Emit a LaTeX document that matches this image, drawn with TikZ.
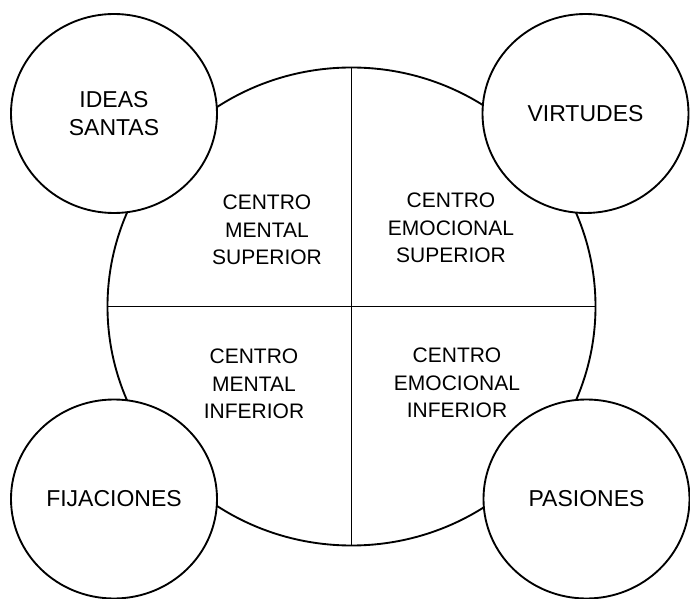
\documentclass[tikz,border=0pt]{standalone}
\usepackage{fontspec}
\setmainfont{Liberation Sans}
\usetikzlibrary{shapes.geometric}

\tikzset{every picture/.style={line width=1.4pt}}
\tikzset{circulo/.style={shape=ellipse,draw,fill=white,inner sep=0pt,minimum width=154.5pt,minimum height=149.25pt,align=center,font=\fontsize{17.25}{21}\selectfont}}
\tikzset{centrotxt/.style={inner sep=0.75pt,align=center,font=\fontsize{15.75}{20.6}\selectfont}}

\begin{document}
\begin{tikzpicture}[x=0.75pt,y=0.75pt,yscale=-1,xscale=1]
\useasboundingbox (0,0) rectangle (690,599);

%Shape: Ellipse [id:centro]
\node [shape=ellipse,draw,inner sep=0pt,minimum width=366pt,minimum height=358.5pt] (centro) at (351.5,306.5) {};
%Straight Lines
\draw (centro.north) -- (centro.south) ;
\draw (centro.west) -- (centro.east) ;

%Shape: Ellipse
\node [circulo] (ideas) at (114,113.5) {IDEAS\\SANTAS};
%Shape: Ellipse
\node [circulo] (virtudes) at (585.5,113.5) {VIRTUDES};
%Shape: Ellipse
\node [circulo] (fijaciones) at (114,499) {FIJACIONES};
%Shape: Ellipse
\node [circulo] (pasiones) at (586.5,499) {PASIONES};

% Text Node
\node [centrotxt] (msup) at (267,230) {CENTRO\\MENTAL\\SUPERIOR};
% Text Node
\node [centrotxt] (esup) at (451,228) {CENTRO\\EMOCIONAL\\SUPERIOR};
% Text Node
\node [centrotxt] (minf) at (254,384) {CENTRO\\MENTAL\\INFERIOR};
% Text Node
\node [centrotxt] (einf) at (457,383) {CENTRO\\EMOCIONAL\\INFERIOR};
\end{tikzpicture}
\end{document}
